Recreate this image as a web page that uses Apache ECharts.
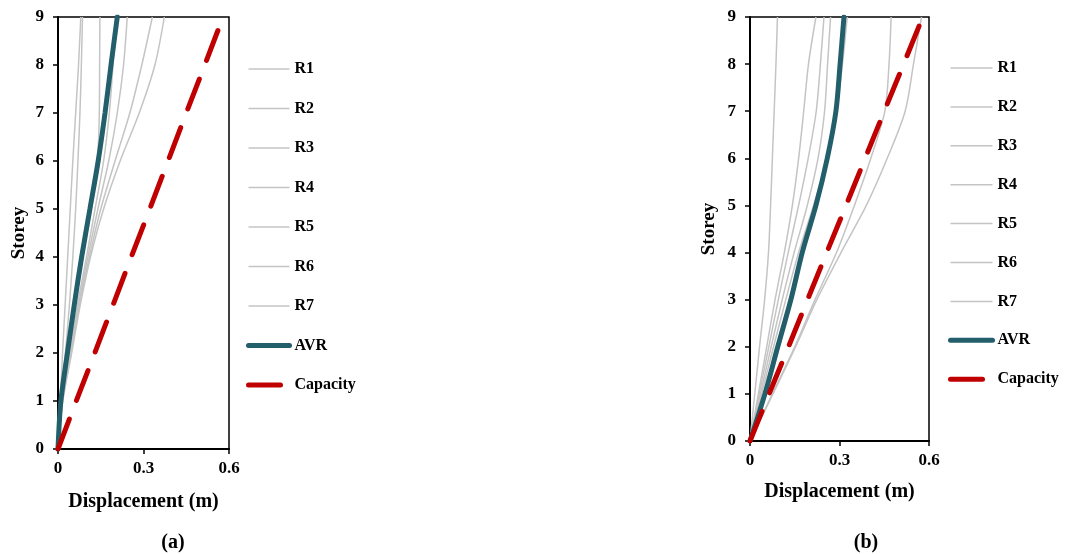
<!DOCTYPE html>
<html>
<head>
<meta charset="utf-8">
<title>Storey displacement</title>
<script src="https://cdn.jsdelivr.net/npm/echarts@6/dist/echarts.min.js"></script>
<style>
  html, body { margin: 0; padding: 0; background: #fff; }
  #chart { width: 1067px; height: 554px; }
</style>
</head>
<body>
<div id="chart"></div>
<script>
// storey levels (y values shared by every curve)
const storeys = [0, 1, 2, 3, 4, 5, 6, 7, 8, 9]
const recordNames = ['R1', 'R2', 'R3', 'R4', 'R5', 'R6', 'R7']
const xTicks = [0, 0.3, 0.6]

// panel (a) displacements (m) per storey
const aR1 = [0, 0.008, 0.016, 0.025, 0.034, 0.043, 0.052, 0.062, 0.072, 0.080]
const aR2 = [0, 0.012, 0.026, 0.040, 0.052, 0.062, 0.070, 0.077, 0.082, 0.086]
const aR3 = [0, 0.012, 0.034, 0.058, 0.085, 0.115, 0.138, 0.145, 0.146, 0.147]
const aR4 = [0, 0.014, 0.040, 0.068, 0.100, 0.130, 0.160, 0.180, 0.193, 0.203]
const aR5 = [0, 0.015, 0.043, 0.072, 0.105, 0.140, 0.178, 0.208, 0.230, 0.243]
const aR6 = [0, 0.016, 0.046, 0.075, 0.110, 0.150, 0.200, 0.252, 0.294, 0.331]
const aR7 = [0, 0.017, 0.048, 0.078, 0.114, 0.160, 0.218, 0.285, 0.340, 0.373]
const aAVR = [0, 0.010, 0.033, 0.057, 0.083, 0.112, 0.141, 0.165, 0.186, 0.208]

// panel (b) displacements (m) per storey
const bR1 = [0, 0.016, 0.032, 0.049, 0.062, 0.069, 0.075, 0.081, 0.087, 0.092]
const bR2 = [0, 0.028, 0.056, 0.084, 0.115, 0.142, 0.163, 0.180, 0.196, 0.221]
const bR3 = [0, 0.031, 0.063, 0.095, 0.128, 0.163, 0.195, 0.222, 0.236, 0.248]
const bR4 = [0, 0.035, 0.071, 0.108, 0.148, 0.192, 0.228, 0.250, 0.260, 0.270]
const bR5 = [0, 0.039, 0.079, 0.120, 0.163, 0.213, 0.260, 0.290, 0.310, 0.326]
const bR6 = [0, 0.075, 0.150, 0.218, 0.290, 0.350, 0.405, 0.452, 0.466, 0.473]
const bR7 = [0, 0.077, 0.153, 0.224, 0.305, 0.390, 0.460, 0.520, 0.548, 0.575]
const bAVR = [0, 0.050, 0.093, 0.137, 0.175, 0.221, 0.259, 0.288, 0.302, 0.315]

// capacity line (same in both panels)
const capacity = [0, 0.064, 0.129, 0.193, 0.257, 0.322, 0.386, 0.450, 0.515, 0.579]

const FONT = "'Times New Roman', 'Liberation Serif', serif"
const GRAY = '#C4C4C4'
const TEAL = '#235E6B'
const RED = '#C00000'
const CAP_DASH = [32, 20]

const toPoints = (vals) => vals.map((v, i) => [v, storeys[i]])

function panelSeries(idx, records, avr) {
  const list = records.map((vals, k) => ({
    name: recordNames[k],
    type: 'line',
    xAxisIndex: idx,
    yAxisIndex: idx,
    data: toPoints(vals),
    symbol: 'none',
    smooth: 0.3,
    lineStyle: { color: GRAY, width: 1.5 },
    itemStyle: { color: GRAY },
    z: 2
  }))
  list.push({
    name: 'AVR',
    type: 'line',
    xAxisIndex: idx,
    yAxisIndex: idx,
    data: toPoints(avr),
    symbol: 'none',
    smooth: 0.3,
    lineStyle: { color: TEAL, width: 5, cap: 'round' },
    itemStyle: { color: TEAL },
    z: 3
  })
  list.push({
    name: 'Capacity',
    type: 'line',
    xAxisIndex: idx,
    yAxisIndex: idx,
    data: toPoints(capacity),
    symbol: 'none',
    lineStyle: { color: RED, width: 5, type: CAP_DASH, cap: 'round' },
    itemStyle: { color: RED },
    z: 4
  })
  return list
}

function xAxisFor(idx, gap) {
  return {
    type: 'value',
    gridIndex: idx,
    min: 0,
    max: 0.6,
    interval: 0.3,
    name: 'Displacement (m)',
    nameLocation: 'middle',
    nameGap: gap,
    nameTextStyle: { fontFamily: FONT, fontWeight: 'bold', fontSize: 20, color: '#000' },
    axisLine: { show: true, lineStyle: { color: '#000', width: 2 } },
    axisTick: { show: true, length: 5, lineStyle: { color: '#000', width: 1.5 } },
    axisLabel: {
      margin: 11,
      fontFamily: FONT, fontWeight: 'bold', fontSize: 17, color: '#000',
      formatter: (v) => xTicks.includes(+v.toFixed(1)) ? (v === 0 ? '0' : v.toFixed(1)) : ''
    },
    splitLine: { show: false }
  }
}

function yAxisFor(idx, gap) {
  return {
    type: 'value',
    gridIndex: idx,
    min: 0,
    max: 9,
    interval: 1,
    name: 'Storey',
    nameLocation: 'middle',
    nameGap: gap,
    nameTextStyle: { fontFamily: FONT, fontWeight: 'bold', fontSize: 19, color: '#000' },
    axisLine: { show: true, lineStyle: { color: '#000', width: 2 } },
    axisTick: { show: true, length: 5, lineStyle: { color: '#000', width: 1.5 } },
    axisLabel: { margin: 14, fontFamily: FONT, fontWeight: 'bold', fontSize: 17, color: '#000' },
    splitLine: { show: false }
  }
}

function legendFor(left, top, gap, width) {
  return {
    orient: 'vertical',
    left: left,
    top: top,
    padding: 0,
    itemWidth: width,
    itemHeight: 14,
    itemGap: gap,
    selectedMode: false,
    itemStyle: { opacity: 0 },
    textStyle: { fontFamily: FONT, fontWeight: 'bold', fontSize: 16, color: '#000', lineHeight: 18 },
    data: recordNames.map(n => ({ name: n, lineStyle: { width: 1.5 } }))
      .concat([
        { name: 'AVR', lineStyle: { width: 5, cap: 'round' } },
        { name: 'Capacity', lineStyle: { width: 5, type: CAP_DASH, cap: 'round' } }
      ])
  }
}

const chart = echarts.init(document.getElementById('chart'))
chart.setOption({
  animation: false,
  backgroundColor: '#fff',
  grid: [
    { left: 58, top: 17, width: 171, height: 432, show: true, borderColor: '#000', borderWidth: 1.5 },
    { left: 750, top: 17, width: 179, height: 424, show: true, borderColor: '#000', borderWidth: 1.5 }
  ],
  xAxis: [xAxisFor(0, 43), xAxisFor(1, 41)],
  yAxis: [yAxisFor(0, 29), yAxisFor(1, 31)],
  legend: [legendFor(246, 60, 21.5, 41), legendFor(948, 59, 20.9, 42)],
  graphic: [
    { type: 'text', x: 173, y: 543, style: { text: '(a)', fontFamily: FONT, fontWeight: 'bold', fontSize: 20, fill: '#000', textAlign: 'center', textVerticalAlign: 'middle' } },
    { type: 'text', x: 866, y: 543, style: { text: '(b)', fontFamily: FONT, fontWeight: 'bold', fontSize: 20, fill: '#000', textAlign: 'center', textVerticalAlign: 'middle' } }
  ],
  series: [
    ...panelSeries(0, [aR1, aR2, aR3, aR4, aR5, aR6, aR7], aAVR),
    ...panelSeries(1, [bR1, bR2, bR3, bR4, bR5, bR6, bR7], bAVR)
  ]
})
</script>
</body>
</html>
